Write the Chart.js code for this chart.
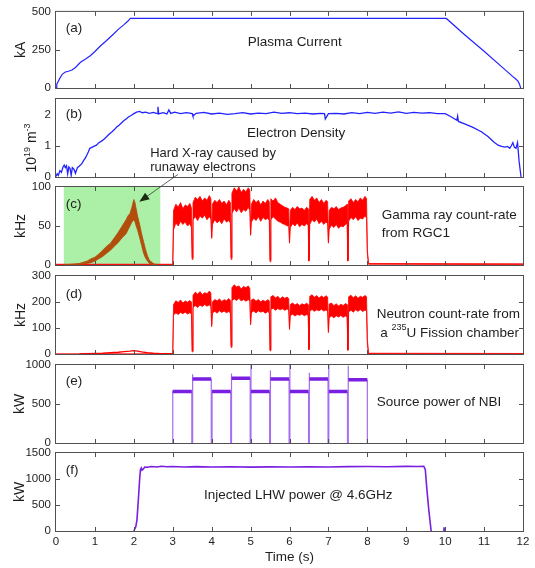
<!DOCTYPE html>
<html>
<head>
<meta charset="utf-8">
<script src="https://cdn.jsdelivr.net/npm/chart.js@4.4.1/dist/chart.umd.min.js"></script>
<style>
  html, body { margin: 0; padding: 0; background: #fff; }
  #wrap { position: relative; width: 535px; height: 568px; }
  #wrap canvas { position: absolute; left: 0; top: 0; }
</style>
</head>
<body>
<div id="wrap">
  <canvas id="panelA" width="535" height="568"></canvas>
  <canvas id="panelB" width="535" height="568"></canvas>
  <canvas id="panelC" width="535" height="568"></canvas>
  <canvas id="panelD" width="535" height="568"></canvas>
  <canvas id="panelE" width="535" height="568"></canvas>
  <canvas id="panelF" width="535" height="568"></canvas>
</div>
<script>
// ---- data ----
const timeTicks = [0, 1, 2, 3, 4, 5, 6, 7, 8, 9, 10, 11, 12];
const ipTicks = [0, 250, 500];
const neTicks = [0, 1, 2];
const gammaTicks = [0, 50, 100];
const neutronTicks = [0, 100, 200, 300];
const nbiTicks = [0, 500, 1000];
const lhwTicks = [0, 500, 1000, 1500];

// (a) plasma current, kA
const ipTime = [0, 0.02, 0.05, 0.10, 0.16, 0.24, 0.32, 0.41, 0.50, 0.63,
  0.76, 0.88, 1.00, 1.14, 1.30, 1.48, 1.60, 1.74, 1.85, 1.91,
  2.00, 3, 4, 5, 6, 7, 8, 9, 10.03, 10.5,
  11.0, 11.5, 11.74, 11.80, 11.87, 11.91, 11.94];
const ipKA = [0, 25, 40, 65, 90, 105, 110, 118, 135, 169,
  190, 212, 240, 276, 312, 355, 385, 415, 440, 457,
  458, 458, 457, 458, 457, 458, 457, 458, 457, 350,
  241, 129, 75, 62, 45, 25, 0];

// (b) electron density, 10^19 m^-3
const neTime = [0, 0.03, 0.06, 0.10, 0.14, 0.18, 0.21, 0.24, 0.27, 0.30,
  0.33, 0.36, 0.39, 0.42, 0.46, 0.50, 0.55, 0.60, 0.66, 0.72,
  0.76, 0.79, 0.83, 0.87, 0.92, 0.97, 1.04, 1.10, 1.17, 1.24,
  1.30, 1.37, 1.44, 1.50, 1.56, 1.62, 1.68, 1.74, 1.81, 1.87,
  1.94, 2.00, 2.07, 2.15, 2.22, 2.30, 2.40, 2.50, 2.60, 2.62,
  2.64, 2.75, 2.85, 2.90, 2.95, 3.05, 3.20, 3.35, 3.50, 3.52,
  3.60, 3.80, 4.00, 4.20, 4.40, 4.60, 4.80, 5.00, 5.20, 5.40,
  5.60, 5.80, 6.00, 6.20, 6.40, 6.60, 6.80, 6.90, 6.92, 7.00,
  7.20, 7.40, 7.60, 7.80, 8.00, 8.20, 8.40, 8.60, 8.80, 9.00,
  9.20, 9.40, 9.60, 9.80, 10.00, 10.15, 10.30, 10.32, 10.34, 10.50,
  10.70, 10.93, 11.10, 11.25, 11.36, 11.45, 11.53, 11.60, 11.66, 11.70,
  11.74, 11.78, 11.82, 11.86, 11.88, 11.90, 11.93, 11.95];
const neDensity = [0.02, 0.10, 0.05, 0.20, 0.15, 0.32, 0.38, 0.30, 0.36, 0.10,
  0.32, 0.28, 0.05, 0.30, 0.25, 0.12, 0.30, 0.35, 0.42, 0.55,
  0.62, 0.70, 0.80, 0.92, 0.95, 0.98, 1.02, 1.10, 1.15, 1.22,
  1.29, 1.38, 1.45, 1.52, 1.60, 1.66, 1.73, 1.80, 1.87, 1.93,
  1.98, 2.03, 2.08, 2.10, 2.06, 2.08, 2.04, 2.07, 2.03, 2.25,
  2.02, 2.06, 2.02, 2.15, 2.04, 2.08, 2.03, 2.06, 2.03, 1.95,
  2.04, 2.07, 2.02, 2.05, 2.01, 2.03, 2.06, 2.02, 2.05, 2.03,
  2.08, 2.04, 2.06, 2.03, 2.05, 2.02, 2.04, 2.03, 1.86, 2.03,
  2.04, 2.02, 2.06, 2.03, 2.07, 2.04, 2.08, 2.05, 2.09, 2.04,
  2.07, 2.05, 2.06, 2.03, 2.03, 1.93, 1.82, 1.95, 1.78, 1.70,
  1.60, 1.45, 1.30, 1.12, 1.02, 0.98, 0.96, 0.98, 0.92, 1.00,
  1.10, 0.95, 0.92, 1.10, 0.80, 0.50, 0.20, 0.00];

// (c) hard X-ray from runaway electrons (shaded window), kHz envelope
const runawayWindow = [0.2, 2.68];
const runawayTime = [0.2, 0.4, 0.6, 0.8, 0.9, 1.0, 1.1, 1.2, 1.3, 1.4,
  1.5, 1.6, 1.7, 1.8, 1.85, 1.9, 1.95, 2.0, 2.03, 2.06,
  2.1, 2.15, 2.2, 2.25, 2.3, 2.35, 2.4, 2.5, 2.6];
const runawayHi = [0, 1, 2, 5, 8, 10, 14, 19, 24, 28,
  35, 42, 50, 58, 63, 66, 74, 84, 80, 72,
  62, 52, 40, 30, 20, 12, 6, 2, 0];
const runawayLo = [0, 0, 1, 2, 3, 5, 8, 11, 15, 19,
  24, 29, 35, 40, 45, 50, 55, 58, 55, 50,
  44, 35, 25, 15, 9, 5, 2, 0, 0];

// time base shared by gamma and neutron signals during the NBI pulses
const burstTime = [0, 2.98, 3.00,
  3.02, 3.08, 3.14, 3.20, 3.26, 3.32, 3.38, 3.44, 3.48, 3.50,
  3.52, 3.58, 3.64, 3.70, 3.76, 3.82, 3.88, 3.94, 3.98, 4.00,
  4.02, 4.08, 4.14, 4.20, 4.26, 4.32, 4.38, 4.44, 4.48, 4.50,
  4.52, 4.58, 4.64, 4.70, 4.76, 4.82, 4.88, 4.94, 4.98, 5.00,
  5.02, 5.08, 5.14, 5.20, 5.26, 5.32, 5.38, 5.44, 5.48, 5.50,
  5.52, 5.58, 5.64, 5.70, 5.76, 5.82, 5.88, 5.94, 5.98, 6.00,
  6.02, 6.08, 6.14, 6.20, 6.26, 6.32, 6.38, 6.44, 6.48, 6.50,
  6.52, 6.58, 6.64, 6.70, 6.76, 6.82, 6.88, 6.94, 6.98, 7.00,
  7.02, 7.08, 7.14, 7.20, 7.26, 7.32, 7.38, 7.44, 7.48, 7.50,
  7.52, 7.58, 7.64, 7.70, 7.76, 7.82, 7.88, 7.94, 7.98, 8.00,
  8.03, 12];

// (c) gamma ray count-rate, kHz (upper / lower edge of the noise band)
const gammaHi = [1, 1, 1,
  70, 78, 74, 80, 72, 77, 75, 79, 73, 9,
  80, 87, 84, 88, 82, 86, 83, 89, 85, 36,
  78, 83, 80, 84, 79, 82, 77, 83, 80, 9,
  92, 99, 95, 100, 93, 97, 94, 99, 96, 40,
  78, 84, 80, 83, 77, 82, 79, 84, 81, 6,
  85, 82, 86, 80, 78, 76, 74, 73, 72, 30,
  70, 74, 71, 75, 72, 73, 70, 74, 72, 7,
  84, 88, 83, 86, 80, 84, 79, 83, 81, 30,
  70, 74, 72, 75, 71, 73, 74, 76, 78, 7,
  82, 85, 80, 84, 81, 86, 83, 88, 85, 20,
  2, 1.5];
const gammaLo = [0, 0, 0,
  45, 54, 50, 56, 52, 55, 50, 53, 48, 7,
  58, 62, 57, 63, 60, 64, 58, 62, 59, 34,
  52, 58, 54, 57, 53, 59, 55, 57, 54, 7,
  66, 72, 68, 73, 67, 71, 69, 74, 70, 38,
  55, 60, 57, 62, 56, 61, 58, 60, 57, 4,
  58, 62, 59, 56, 55, 53, 52, 50, 51, 28,
  48, 53, 50, 54, 49, 52, 50, 53, 51, 5,
  52, 58, 55, 59, 53, 56, 52, 55, 53, 28,
  46, 51, 48, 52, 47, 50, 49, 52, 54, 5,
  56, 61, 58, 62, 57, 60, 59, 63, 60, 15,
  1, 0.5];

// (d) neutron count-rate, kHz
const neutronHi = [0, 0, 0,
  190, 205, 198, 208, 196, 204, 199, 206, 200, 12,
  225, 238, 230, 240, 228, 236, 232, 242, 235, 112,
  200, 210, 204, 212, 202, 209, 205, 213, 207, 30,
  255, 266, 258, 262, 250, 260, 255, 262, 252, 120,
  208, 212, 203, 210, 200, 207, 202, 209, 205, 16,
  220, 225, 215, 222, 212, 220, 214, 219, 213, 100,
  190, 196, 188, 194, 186, 193, 189, 195, 190, 21,
  222, 228, 218, 225, 215, 223, 217, 224, 219, 88,
  192, 196, 186, 193, 185, 191, 187, 194, 190, 18,
  220, 226, 216, 224, 214, 222, 218, 225, 220, 60,
  3, 2];
const neutronLo = [0, 0, 0,
  150, 158, 152, 160, 155, 161, 154, 159, 153, 8,
  180, 186, 179, 188, 183, 190, 184, 189, 182, 105,
  158, 164, 157, 166, 160, 165, 159, 163, 158, 25,
  205, 212, 206, 214, 204, 210, 203, 209, 205, 112,
  160, 165, 158, 166, 161, 164, 157, 163, 159, 12,
  172, 176, 168, 175, 170, 174, 168, 173, 169, 94,
  148, 153, 146, 152, 149, 154, 147, 152, 148, 16,
  165, 171, 164, 170, 166, 172, 165, 169, 164, 82,
  140, 146, 139, 147, 142, 148, 141, 146, 143, 14,
  162, 168, 161, 170, 164, 171, 163, 169, 165, 40,
  0, 0];
const neutronBumpTime = [0.6, 0.8, 1.0, 1.2, 1.4, 1.6, 1.75, 1.9, 2.0, 2.1, 2.2, 2.35, 2.5, 2.7, 2.98];
const neutronBump = [0, 1, 2, 3, 5, 7, 9, 11, 13, 11, 8, 5, 3, 1, 1];

// (e) NBI source power, kW — one entry per beam pulse
const nbiStart = [3.00, 3.51, 4.01, 4.51, 5.01, 5.51, 6.01, 6.51, 7.01, 7.51];
const nbiEnd = [3.49, 3.99, 4.49, 4.99, 5.49, 5.99, 6.49, 6.99, 7.49, 8.00];
const nbiLevel = [660, 820, 660, 830, 660, 820, 660, 820, 660, 810];
const nbiEdgeTop = [670, 880, 670, 890, 1000, 930, 1000, 900, 1000, 990];

// (f) injected LHW power, kW
const lhwTime = [2.00, 2.05, 2.08, 2.12, 2.15, 2.17, 2.19, 2.21, 2.24, 2.28,
  2.35, 2.45, 2.60, 2.70, 2.85, 3.00, 3.30, 3.60, 4.00, 4.50,
  5.00, 5.50, 6.00, 6.50, 7.00, 7.50, 8.00, 8.50, 9.00, 9.30,
  9.45, 9.49, 9.53, 9.58, 9.64, 9.66, 9.96, 9.97, 9.98];
const lhwKW = [0, 80, 210, 650, 1000, 1180, 1210, 1170, 1190, 1230,
  1225, 1240, 1232, 1245, 1235, 1240, 1232, 1238, 1230, 1236,
  1228, 1234, 1230, 1236, 1232, 1238, 1240, 1236, 1242, 1240,
  1245, 1180, 800, 400, 0, null, 0, 70, 0];

// ---- look ----
const FONT = '"Liberation Sans", Arial, sans-serif';
const TEXT = '#1e1e1e';
const FRAME = '#505050';
const BLUE = '#2323ff';
const RED = '#ff0000';
const BROWN = '#b24d0c';
const GREEN = '#abf0a6';
const PURPLE = '#7a1fe2';
const PURPLE_EDGE = '#a56cf0';
const LABEL_SIZE = 13.5;

const PANEL_TOP = [10, 99, 187, 276, 365, 453];
const PANEL_H = 78;
const PLOT_LEFT = 56;
const PLOT_RIGHT = 523;

Chart.defaults.font.family = FONT;

const pts = (xs, ys) => xs.map((x, k) => ({ x: x, y: ys[k] }));
const line = (data, color, width, extra) => Object.assign({
  data: data, borderColor: color, backgroundColor: color, borderWidth: width,
  pointRadius: 0, tension: 0, fill: false
}, extra || {});

function drawRuns(ctx, runs, x, y) {
  let cx = x;
  runs.forEach(r => {
    ctx.font = r.size + 'px ' + FONT;
    ctx.fillText(r.text, cx, y + (r.dy || 0));
    cx += ctx.measureText(r.text).width;
  });
}
function runsWidth(ctx, runs) {
  let w = 0;
  runs.forEach(r => { ctx.font = r.size + 'px ' + FONT; w += ctx.measureText(r.text).width; });
  return w;
}
const txt = s => [{ text: s, size: LABEL_SIZE }];

function framePlugin(p) {
  return {
    id: 'frame' + p.index,
    beforeDatasetsDraw(chart) {
      if (!p.shade) return;
      const xs = chart.scales.x, ys = chart.scales.y, ctx = chart.ctx;
      const x0 = xs.getPixelForValue(p.shade[0]), x1 = xs.getPixelForValue(p.shade[1]);
      const y0 = ys.getPixelForValue(ys.max), y1 = ys.getPixelForValue(ys.min);
      ctx.save();
      ctx.fillStyle = GREEN;
      ctx.fillRect(x0, y0, x1 - x0, y1 - y0);
      ctx.restore();
    },
    afterDraw(chart) {
      const ctx = chart.ctx, a = chart.chartArea, xs = chart.scales.x, ys = chart.scales.y;
      ctx.save();
      ctx.strokeStyle = FRAME;
      ctx.lineWidth = 1;
      ctx.strokeRect(a.left - 0.5, a.top - 0.5, a.right - a.left + 1, a.bottom - a.top + 1);
      ctx.beginPath();
      timeTicks.slice(1, -1).forEach(t => {
        const x = Math.round(xs.getPixelForValue(t)) + 0.5;
        ctx.moveTo(x, a.bottom); ctx.lineTo(x, a.bottom - 4);
        ctx.moveTo(x, a.top); ctx.lineTo(x, a.top + 4);
      });
      p.yTicks.slice(1, -1).forEach(v => {
        const y = Math.round(ys.getPixelForValue(v)) + 0.5;
        ctx.moveTo(a.left, y); ctx.lineTo(a.left + 4, y);
        ctx.moveTo(a.right, y); ctx.lineTo(a.right - 4, y);
      });
      ctx.stroke();

      // annotations, placed in data units
      ctx.fillStyle = TEXT;
      ctx.textBaseline = 'alphabetic';
      ctx.textAlign = 'left';
      p.notes.forEach(n => {
        drawRuns(ctx, n.runs, xs.getPixelForValue(n.t), ys.getPixelForValue(n.v) + 5);
      });

      // y axis title, rotated
      const w = runsWidth(ctx, p.yTitle);
      ctx.translate(p.yTitleX, (a.top + a.bottom) / 2 + (p.yTitleShift || 0));
      ctx.rotate(-Math.PI / 2);
      drawRuns(ctx, p.yTitle, -w / 2, 5);
      ctx.restore();

      if (p.arrow) {
        const [t0, v0, t1, v1] = p.arrow;
        const x0 = xs.getPixelForValue(t0), y0 = ys.getPixelForValue(v0);
        const x1 = xs.getPixelForValue(t1), y1 = ys.getPixelForValue(v1);
        const ang = Math.atan2(y1 - y0, x1 - x0);
        ctx.save();
        ctx.strokeStyle = '#3a3a3a';
        ctx.fillStyle = '#1d2b12';
        ctx.lineWidth = 0.8;
        ctx.beginPath();
        ctx.moveTo(x0, y0);
        ctx.lineTo(x1 - 8 * Math.cos(ang), y1 - 8 * Math.sin(ang));
        ctx.stroke();
        ctx.beginPath();
        ctx.moveTo(x1, y1);
        ctx.lineTo(x1 - 10 * Math.cos(ang) + 4 * Math.sin(ang), y1 - 10 * Math.sin(ang) - 4 * Math.cos(ang));
        ctx.lineTo(x1 - 10 * Math.cos(ang) - 4 * Math.sin(ang), y1 - 10 * Math.sin(ang) + 4 * Math.cos(ang));
        ctx.closePath();
        ctx.fill();
        ctx.restore();
      }
    }
  };
}

function makePanel(id, p, datasets) {
  const last = p.index === 5;
  const bottomSpace = 568 - PANEL_TOP[p.index] - PANEL_H;
  return new Chart(document.getElementById(id), {
    type: 'line',
    data: { datasets: datasets },
    options: {
      responsive: false,
      animation: false,
      devicePixelRatio: 1,
      events: [],
      layout: { padding: { left: 0, right: 535 - PLOT_RIGHT, top: PANEL_TOP[p.index], bottom: last ? 0 : bottomSpace } },
      plugins: { legend: { display: false }, tooltip: { enabled: false } },
      scales: {
        x: {
          type: 'linear', min: 0, max: 12, display: last,
          grid: { display: false, drawTicks: false }, border: { display: false },
          afterBuildTicks: s => { s.ticks = timeTicks.map(v => ({ value: v })); },
          afterFit: s => { s.height = last ? bottomSpace : 0; },
          ticks: { padding: 4, color: TEXT, font: { size: 11.5 }, maxRotation: 0, autoSkip: false, callback: v => String(v) },
          title: { display: last, text: 'Time (s)', color: TEXT, font: { size: LABEL_SIZE }, padding: { top: 0, bottom: 3 } }
        },
        y: {
          min: p.yTicks[0], max: p.yMax,
          grid: { display: false, drawTicks: false }, border: { display: false },
          afterBuildTicks: s => { s.ticks = p.yTicks.map(v => ({ value: v })); },
          afterFit: s => { s.width = PLOT_LEFT; },
          ticks: { padding: 5, color: TEXT, font: { size: 11.5 }, callback: v => String(v) }
        }
      }
    },
    plugins: [framePlugin(p)]
  });
}

// ---- NBI pulses: plateaus and switching edges ----
const nbiPlateau = [];
const nbiEdges = [];
nbiStart.forEach((t, k) => {
  nbiPlateau.push({ x: t, y: nbiLevel[k] }, { x: nbiEnd[k], y: nbiLevel[k] }, { x: nbiEnd[k], y: null });
  nbiEdges.push({ x: t, y: 0 }, { x: t, y: nbiEdgeTop[k] }, { x: t, y: null });
  nbiEdges.push({ x: nbiEnd[k], y: nbiLevel[k] }, { x: nbiEnd[k], y: 0 }, { x: nbiEnd[k], y: null });
});

// (a)
makePanel('panelA', {
  index: 0, yTicks: ipTicks, yMax: 500, yTitleX: 20,
  yTitle: [{ text: 'kA', size: 14 }],
  notes: [
    { runs: txt('(a)'), t: 0.25, v: 404 },
    { runs: txt('Plasma Current'), t: 4.93, v: 308 }
  ]
}, [line(pts(ipTime, ipKA), BLUE, 1.2)]);

// (b)
makePanel('panelB', {
  index: 1, yTicks: neTicks, yMax: 2.5, yTitleX: 31, yTitleShift: 10,
  yTitle: [{ text: '10', size: 14 }, { text: '19', size: 9, dy: -6 },
           { text: ' m', size: 14 }, { text: '-3', size: 9, dy: -6 }],
  notes: [
    { runs: txt('(b)'), t: 0.25, v: 2.05 },
    { runs: txt('Electron Density'), t: 4.91, v: 1.44 },
    { runs: [{ text: 'Hard X-ray caused by', size: 13 }], t: 2.42, v: 0.80 },
    { runs: [{ text: 'runaway electrons', size: 13 }], t: 2.42, v: 0.36 }
  ]
}, [line(pts(neTime, neDensity), BLUE, 1.3)]);

// (c)
makePanel('panelC', {
  index: 2, yTicks: gammaTicks, yMax: 100, yTitleX: 20,
  yTitle: [{ text: 'kHz', size: 14 }], shade: runawayWindow, arrow: [3.13, 116, 2.14, 81],
  notes: [
    { runs: txt('(c)'), t: 0.25, v: 79.5 },
    { runs: txt('Gamma ray count-rate'), t: 8.37, v: 65 },
    { runs: txt('from RGC1'), t: 8.37, v: 42.7 }
  ]
}, [
  line(pts(runawayTime, runawayHi), BROWN, 0.8, { fill: '+1' }),
  line(pts(runawayTime, runawayLo), BROWN, 0.8),
  line(pts(burstTime, gammaHi), RED, 0.8, { fill: '+1' }),
  line(pts(burstTime, gammaLo), RED, 0.8)
]);

// (d)
makePanel('panelD', {
  index: 3, yTicks: neutronTicks, yMax: 300, yTitleX: 20,
  yTitle: [{ text: 'kHz', size: 14 }],
  notes: [
    { runs: txt('(d)'), t: 0.25, v: 236 },
    { runs: txt('Neutron count-rate from'), t: 8.24, v: 156.5 },
    { runs: [{ text: 'a ', size: LABEL_SIZE }, { text: '235', size: 9, dy: -7 },
             { text: 'U Fission chamber', size: LABEL_SIZE }], t: 8.33, v: 83.5 }
  ]
}, [
  line(pts(burstTime, neutronHi), RED, 0.8, { fill: '+1' }),
  line(pts(burstTime, neutronLo), RED, 0.8),
  line(pts(neutronBumpTime, neutronBump), RED, 1.4)
]);

// (e)
makePanel('panelE', {
  index: 4, yTicks: nbiTicks, yMax: 1000, yTitleX: 19,
  yTitle: [{ text: 'kW', size: 14 }],
  notes: [
    { runs: txt('(e)'), t: 0.25, v: 808 },
    { runs: txt('Source power of NBI'), t: 8.24, v: 542 }
  ]
}, [
  line(nbiPlateau, PURPLE, 3.4),
  line(nbiEdges, PURPLE_EDGE, 1.2)
]);

// (f)
makePanel('panelF', {
  index: 5, yTicks: lhwTicks, yMax: 1500, yTitleX: 19,
  yTitle: [{ text: 'kW', size: 14 }],
  notes: [
    { runs: txt('(f)'), t: 0.25, v: 1187 },
    { runs: txt('Injected LHW power @ 4.6GHz'), t: 3.80, v: 712 }
  ]
}, [line(pts(lhwTime, lhwKW), PURPLE, 1.6)]);
</script>
</body>
</html>
